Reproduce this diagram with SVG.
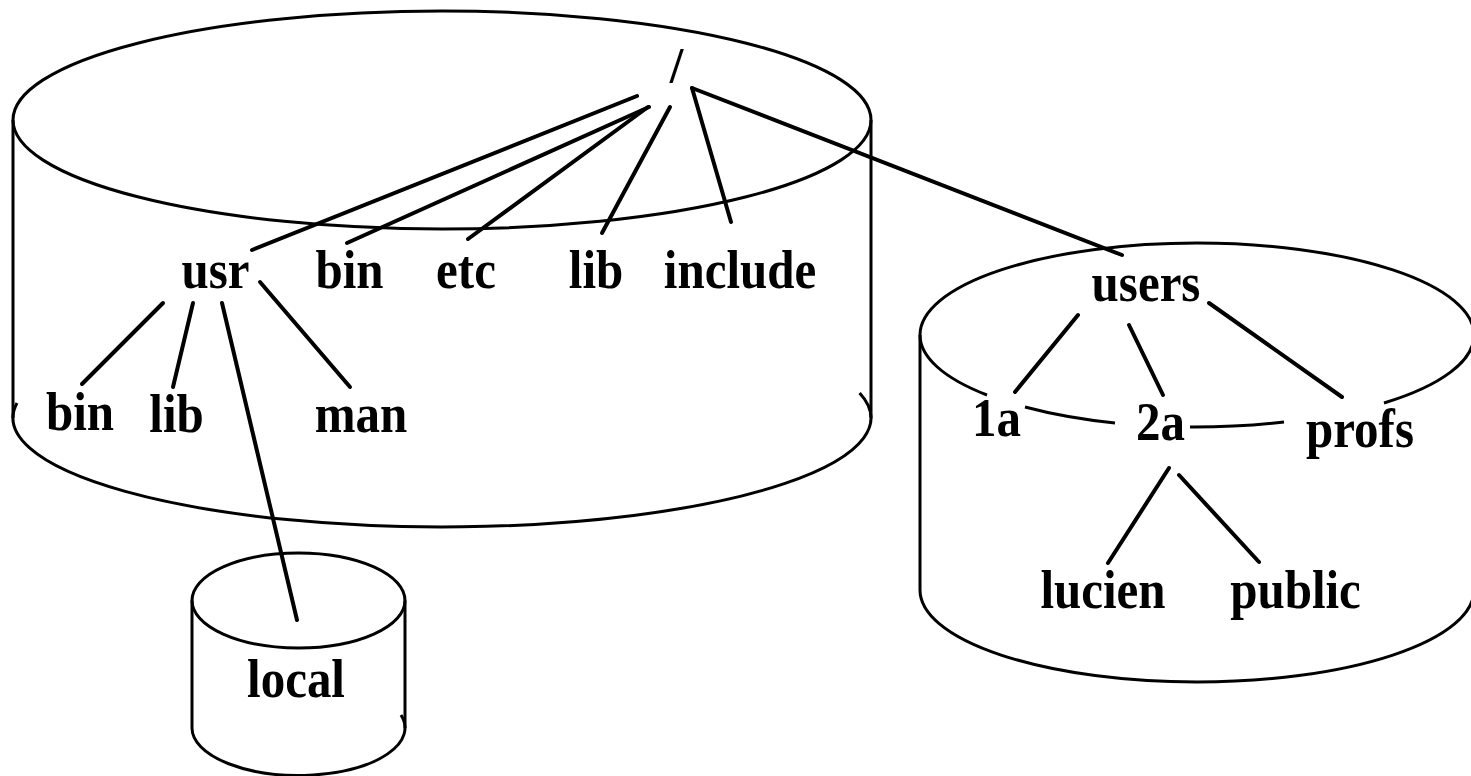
<svg xmlns="http://www.w3.org/2000/svg" width="1471" height="776" viewBox="0 0 1471 776">
  <style>
    .disk { fill: none; stroke: #000; stroke-width: 3; }
    .edge { stroke: #000; stroke-width: 4; stroke-linecap: round; fill: none; }
    .lbl { font-family: "Liberation Serif", "Times New Roman", serif; font-weight: bold; font-size: 49px; fill: #000; text-anchor: middle; }
  </style>
  <rect width="1471" height="776" fill="#fff"/>

  <!-- main file system disk -->
  <g id="disk-root">
    <ellipse class="disk" cx="442" cy="120" rx="429" ry="109"/>
    <line class="disk" x1="13" y1="120" x2="13" y2="418"/>
    <line class="disk" x1="871" y1="120" x2="871" y2="418"/>
    <path class="disk" d="M 17 403 A 429 109 0 1 0 859.6 393"/>
  </g>

  <!-- disk mounted on /usr/local -->
  <g id="disk-local">
    <ellipse class="disk" cx="298.5" cy="600.5" rx="106.5" ry="47.5"/>
    <line class="disk" x1="192" y1="600.5" x2="192" y2="728"/>
    <line class="disk" x1="405" y1="600.5" x2="405" y2="728"/>
    <path class="disk" d="M 192 728 A 106.5 47.5 0 1 0 401 715"/>
  </g>

  <!-- disk mounted on /users (front rim broken by labels) -->
  <g id="disk-users">
    <path class="disk" d="M 920 335 A 277 92 0 0 1 1474 335"/>
    <path class="disk" d="M 920 335 A 277 92 0 0 0 987 395"/>
    <path class="disk" d="M 1025 407 A 277 92 0 0 0 1115 423"/>
    <path class="disk" d="M 1190 427 A 277 92 0 0 0 1284 422"/>
    <path class="disk" d="M 1384 403 A 277 92 0 0 0 1474 335"/>
    <line class="disk" x1="920" y1="335" x2="920" y2="590"/>
    <line class="disk" x1="1474" y1="335" x2="1474" y2="590"/>
    <path class="disk" d="M 920 590 A 277 92 0 0 0 1474 590"/>
  </g>

  <g id="connectors">
    <line class="edge" x1="637" y1="96" x2="252" y2="250"/>
    <line class="edge" x1="649" y1="107" x2="347" y2="243"/>
    <line class="edge" x1="648" y1="107" x2="468" y2="239"/>
    <line class="edge" x1="670" y1="107" x2="602" y2="233"/>
    <line class="edge" x1="692" y1="88" x2="731" y2="222"/>
    <line class="edge" x1="692" y1="88" x2="1122" y2="255"/>
    <line class="edge" x1="163" y1="303" x2="82" y2="384"/>
    <line class="edge" x1="193" y1="303" x2="173" y2="387"/>
    <line class="edge" x1="222" y1="303" x2="297" y2="620"/>
    <line class="edge" x1="260" y1="282" x2="350" y2="387"/>
    <line class="edge" x1="1078" y1="315" x2="1015" y2="392"/>
    <line class="edge" x1="1129" y1="325" x2="1163" y2="395"/>
    <line class="edge" x1="1209" y1="303" x2="1342" y2="397"/>
    <line class="edge" x1="1169" y1="468" x2="1108" y2="563"/>
    <line class="edge" x1="1179" y1="475" x2="1259" y2="562"/>
  </g>

  <!-- labels: slightly tall lettering -->
  <g id="n-root"><text class="lbl" transform="translate(676.5 82) scale(1 1.02)">/</text></g>
  <g id="n-usr"><text class="lbl" transform="translate(215.5 288) scale(1 1.1)">usr</text></g>
  <g id="n-bin"><text class="lbl" transform="translate(349.5 288) scale(1 1.1)">bin</text></g>
  <g id="n-etc"><text class="lbl" transform="translate(466 288) scale(1 1.1)">etc</text></g>
  <g id="n-lib"><text class="lbl" transform="translate(596 288) scale(1 1.1)">lib</text></g>
  <g id="n-include"><text class="lbl" transform="translate(740 288) scale(1 1.1)">include</text></g>
  <g id="n-usr-bin"><text class="lbl" transform="translate(80 430) scale(1 1.1)">bin</text></g>
  <g id="n-usr-lib"><text class="lbl" transform="translate(176.5 432) scale(1 1.1)">lib</text></g>
  <g id="n-usr-man"><text class="lbl" transform="translate(361 432) scale(1 1.1)">man</text></g>
  <g id="n-usr-local"><text class="lbl" transform="translate(296 697) scale(1 1.1)">local</text></g>
  <g id="n-users"><text class="lbl" transform="translate(1146 301) scale(1 1.1)">users</text></g>
  <g id="n-1a"><text class="lbl" transform="translate(996.5 436) scale(1 1.1)">1a</text></g>
  <g id="n-2a"><text class="lbl" transform="translate(1160.5 440) scale(1 1.1)">2a</text></g>
  <g id="n-profs"><text class="lbl" transform="translate(1360 447) scale(1 1.1)">profs</text></g>
  <g id="n-lucien"><text class="lbl" transform="translate(1103 608) scale(1 1.1)">lucien</text></g>
  <g id="n-public"><text class="lbl" transform="translate(1295.5 608) scale(1 1.1)">public</text></g>
</svg>
